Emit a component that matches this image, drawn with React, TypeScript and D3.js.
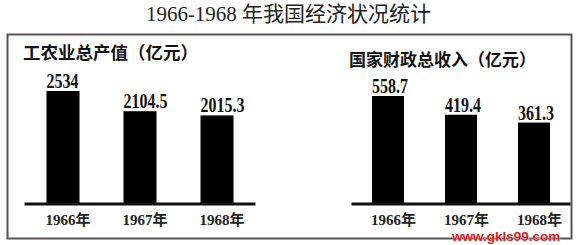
import React from "react";
import * as d3 from "d3";

const years = ["1966年", "1967年", "1968年"];
const outputValues = [2534, 2104.5, 2015.3];
const outputLabels = ["2534", "2104.5", "2015.3"];
const revenueValues = [558.7, 419.4, 361.3];
const revenueLabels = ["558.7", "419.4", "361.3"];

const mainTitle = "1966-1968 年我国经济状况统计";
const title1 = "工农业总产值（亿元）";
const title2 = "国家财政总收入（亿元）";
const watermark = "www.gkls99.com";

const W = 581;
const H = 245;
const BASE = 203;

type PanelProps = {
  values: number[];
  labels: string[];
  title: string;
  titleX: number;
  titleY: number;
  titleSize: number;
  xRange: [number, number];
  yDomain: [number, number];
  yTop: number;
  barW: number;
};

function Panel(p: PanelProps) {
  const x = d3.scaleBand<string>().domain(years).range(p.xRange).padding(0);
  const y = d3.scaleLinear().domain(p.yDomain).range([BASE, p.yTop]);
  const step = x.step();
  const serif = "'Liberation Serif', 'Times New Roman', 'Noto Sans CJK SC', serif";
  return (
    <g>
      <text
        x={p.titleX}
        y={p.titleY}
        fontFamily="'Noto Sans CJK SC', sans-serif"
        fontWeight={700}
        fontSize={p.titleSize}
        fill="#111"
      >
        {p.title}
      </text>
      {years.map((yr, i) => {
        const bx = (x(yr) as number) + (step - p.barW) / 2;
        const top = y(p.values[i]);
        return (
          <g key={yr}>
            <rect x={bx} y={top} width={p.barW} height={BASE - top} fill="#000" />
            <text
              transform={`translate(${bx},${top - 3}) scale(0.76,1)`}
              fontFamily={serif}
              fontWeight={700}
              fontSize={21}
              fill="#111"
            >
              {p.labels[i]}
            </text>
            <text
              x={bx - 1}
              y={225}
              fontFamily={serif}
              fontWeight={700}
              fontSize={15}
              fill="#222"
            >
              {yr}
            </text>
          </g>
        );
      })}
      <line
        x1={p.xRange[0]}
        x2={p.xRange[1]}
        y1={BASE + 1}
        y2={BASE + 1}
        stroke="#111"
        strokeWidth={3}
      />
    </g>
  );
}

export default function App() {
  return (
    <svg
      width={W}
      height={H}
      style={{ position: "absolute", left: 0, top: 0, background: "#fff" }}
    >
      <rect x={0} y={0} width={W} height={H} fill="#fff" />
      <text
        x={288.5}
        y={21}
        textAnchor="middle"
        fontFamily="'Liberation Serif', 'Noto Sans CJK SC', serif"
        fontSize={21}
        fill="#222"
      >
        {mainTitle}
      </text>
      <rect
        x={7.5}
        y={34.5}
        width={564}
        height={204}
        fill="none"
        stroke="#555"
        strokeWidth={2}
      />
      <Panel
        values={outputValues}
        labels={outputLabels}
        title={title1}
        titleX={23}
        titleY={59}
        titleSize={17.5}
        xRange={[24.5, 255.5]}
        yDomain={[154, 2534]}
        yTop={91}
        barW={33}
      />
      <Panel
        values={revenueValues}
        labels={revenueLabels}
        title={title2}
        titleX={349}
        titleY={66}
        titleSize={17}
        xRange={[351.5, 570.5]}
        yDomain={[-237, 558.7]}
        yTop={96}
        barW={32}
      />
      <text
        x={452}
        y={241}
        fontFamily="'Liberation Sans', Arial, sans-serif"
        fontWeight={700}
        fontSize={13.5}
        fill="#e0201b"
        stroke="#fff"
        strokeWidth={0.5}
        paintOrder="stroke"
      >
        {watermark}
      </text>
    </svg>
  );
}
